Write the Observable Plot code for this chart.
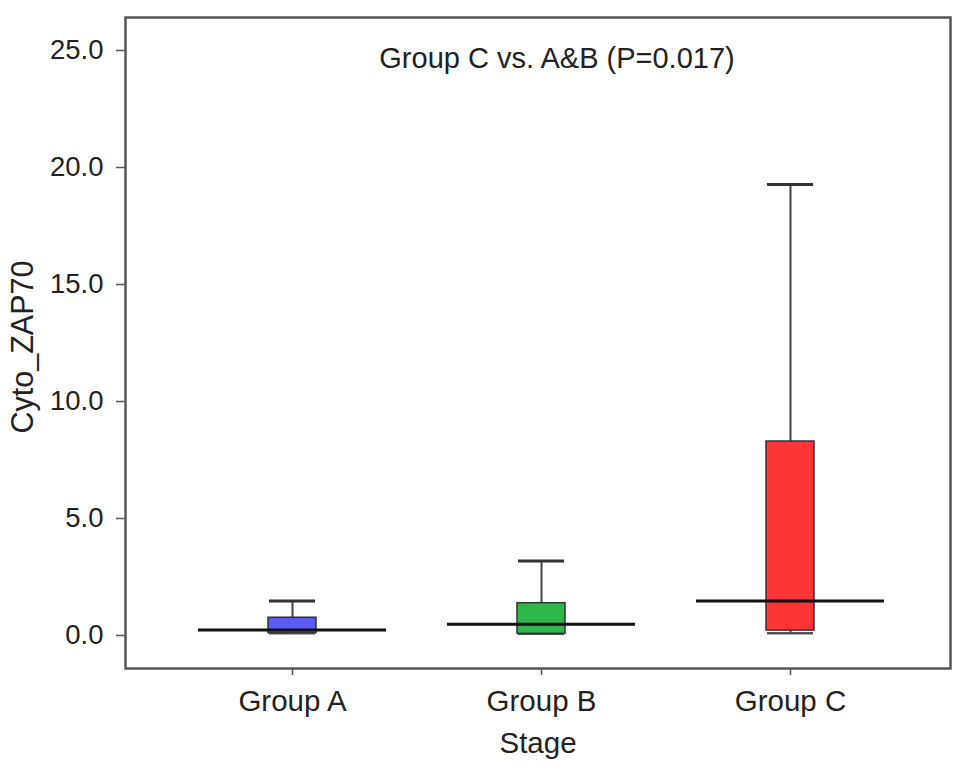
<!DOCTYPE html>
<html>
<head>
<meta charset="utf-8">
<script src="https://cdn.jsdelivr.net/npm/d3@7"></script>
<script src="https://cdn.jsdelivr.net/npm/@observablehq/plot@0.6"></script>
<style>
  html, body { margin: 0; padding: 0; background: #fff; }
  #chart svg { display: block; }
</style>
</head>
<body>
<div id="chart"></div>
<script>
const groups = ["Group A", "Group B", "Group C"];
const lowWhisker = [0.1, 0.07, 0.1];
const q1 = [0.1, 0.07, 0.21];
const median = [0.24, 0.48, 1.47];
const q3 = [0.76, 1.38, 8.29];
const highWhisker = [1.47, 3.18, 19.27];
const fills = ["#5b5bf2", "#2eb84a", "#fd3535"];
const yTicks = [0, 5, 10, 15, 20, 25];
const annotation = "Group C vs. A&B (P=0.017)";
const xTitle = "Stage";
const yTitle = "Cyto_ZAP70";

const data = groups.map((g, i) => ({
  group: g, lo: lowWhisker[i], q1: q1[i], median: median[i], q3: q3[i], hi: highWhisker[i]
}));

const chart = Plot.plot({
  width: 969,
  height: 773,
  marginLeft: 125,
  marginRight: 19,
  marginTop: 17,
  marginBottom: 105,
  style: { fontFamily: "'Liberation Sans', Arial, sans-serif", fontSize: "27px", color: "#222", background: "#fff" },
  x: { type: "band", domain: groups, paddingInner: 0.807, paddingOuter: 0.56, align: 0.513 },
  y: { domain: [-1.41, 26.41] },
  color: { domain: groups, range: fills },
  marks: [
    Plot.axisY({ ticks: yTicks, tickFormat: d3.format(".1f"), tickSize: 9, tickPadding: 13, fontSize: 27.5, label: null, stroke: "#555", strokeWidth: 1.5 }),
    Plot.axisX({ tickSize: 7, tickPadding: 15, fontSize: 29.5, label: null, stroke: "#555", strokeWidth: 1.5 }),
    Plot.text([yTitle], { frameAnchor: "left", rotate: -90, dx: -102, dy: 4, textAnchor: "middle", lineAnchor: "middle", fontSize: 30.5, fill: "#222" }),
    Plot.text([xTitle], { frameAnchor: "bottom", dy: 75, lineAnchor: "middle", fontSize: 29.5, fill: "#222" }),
    Plot.ruleX(data, { x: "group", y1: "q3", y2: "hi", stroke: "#444", strokeWidth: 2 }),
    Plot.ruleX(data, { x: "group", y1: "lo", y2: "q1", stroke: "#444", strokeWidth: 2 }),
    Plot.tickY(data, { x: "group", y: "hi", stroke: "#333", strokeWidth: 3, insetLeft: 1, insetRight: 1 }),
    Plot.tickY(data, { x: "group", y: "lo", stroke: "#555", strokeWidth: 2.5, insetLeft: 1, insetRight: 1 }),
    Plot.barY(data, { x: "group", y1: "q1", y2: "q3", fill: "group", stroke: "#333", strokeWidth: 1.5 }),
    Plot.tickY(data, { x: "group", y: "median", stroke: "#111", strokeWidth: 3, insetLeft: -70, insetRight: -70 }),
    Plot.text([annotation], { frameAnchor: "top", dx: 19, dy: 41, lineAnchor: "middle", fontSize: 29, fill: "#222" }),
    Plot.frame({ stroke: "#555", strokeWidth: 2.5 })
  ]
});

document.getElementById("chart").append(chart);
</script>
</body>
</html>
